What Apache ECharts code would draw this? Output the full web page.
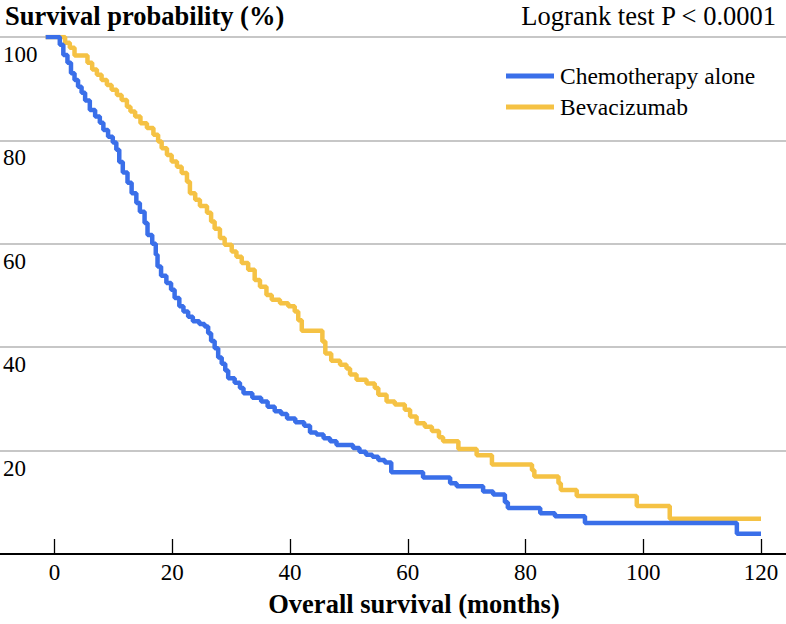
<!DOCTYPE html>
<html>
<head>
<meta charset="utf-8">
<style>html,body{margin:0;padding:0;background:#fff;}#chart{width:786px;height:624px;}</style>
<script src="https://cdn.jsdelivr.net/npm/echarts@6/dist/echarts.min.js"></script>
</head>
<body>
<div id="chart"></div>
<script>
const xTicks = [0, 20, 40, 60, 80, 100, 120];
const yTicks = [0, 20, 40, 60, 80, 100];
const seriesNames = ['Chemotherapy alone', 'Bevacizumab'];

const chemoTimes = [-1.5, 0.9, 1.5, 2.2, 2.8, 3.4, 4.0, 4.6, 5.2, 6.0, 6.9, 7.7, 8.3, 9.1, 9.9, 10.5, 11.0, 11.6, 12.4, 13.1, 13.9, 14.5, 15.3, 15.8, 16.6, 17.2, 17.5, 18.1, 19.0, 19.8, 20.4, 21.2, 21.9, 22.7, 23.5, 24.6, 25.5, 26.1, 26.6, 27.2, 27.8, 28.4, 29.0, 29.5, 30.6, 31.5, 32.1, 33.6, 35.1, 36.2, 37.4, 38.5, 39.5, 40.9, 42.4, 43.4, 44.5, 45.7, 46.8, 47.9, 50.7, 51.8, 52.9, 54.0, 55.0, 56.1, 57.2, 62.6, 67.2, 68.3, 72.8, 74.5, 76.5, 77.0, 82.5, 85.0, 90.1, 115.9, 120];
const chemoSurv = [100, 98.5, 96.5, 95.0, 93.0, 91.7, 90.4, 89.2, 87.7, 85.9, 84.6, 83.4, 82.0, 80.7, 79.6, 78.2, 75.8, 73.8, 71.8, 69.8, 67.9, 66.2, 64.0, 61.7, 60.0, 57.9, 55.6, 53.8, 52.4, 51.1, 49.5, 47.9, 46.9, 45.9, 45.0, 44.5, 44.0, 42.7, 41.2, 39.8, 38.0, 36.8, 35.5, 34.0, 33.1, 32.1, 31.1, 30.2, 29.5, 28.5, 27.6, 27.1, 26.2, 25.5, 24.8, 23.5, 23.1, 22.4, 21.8, 21.1, 20.5, 19.8, 19.2, 18.8, 18.2, 17.7, 15.8, 14.8, 13.7, 13.1, 12.1, 11.5, 10.0, 8.9, 7.9, 7.3, 6.0, 3.9, 3.9];

const bevTimes = [-1.5, 1.8, 2.6, 3.4, 5.6, 6.4, 7.2, 8.0, 8.9, 9.7, 10.6, 11.4, 12.3, 12.9, 13.7, 14.6, 15.7, 16.8, 17.6, 18.2, 19.1, 19.9, 20.8, 21.6, 22.5, 23.0, 23.9, 24.7, 25.9, 26.6, 27.2, 28.1, 28.9, 30.1, 30.9, 31.8, 32.9, 34.0, 34.9, 36.0, 36.9, 38.3, 39.7, 40.8, 41.4, 42.0, 45.5, 46.0, 47.0, 48.5, 49.6, 50.2, 51.3, 53.0, 54.4, 55.0, 56.4, 57.8, 59.5, 60.4, 61.5, 62.9, 64.1, 65.3, 66.0, 68.6, 71.7, 74.3, 81.1, 81.5, 85.6, 86.0, 88.7, 98.9, 104.5, 120];
const bevSurv = [100, 98.9, 97.9, 96.4, 95.0, 93.7, 92.7, 91.7, 90.7, 89.8, 88.8, 87.8, 86.5, 85.6, 84.6, 83.3, 82.4, 81.1, 79.8, 78.5, 77.2, 75.9, 74.9, 73.7, 72.0, 69.8, 68.5, 67.3, 66.0, 64.3, 62.9, 61.1, 59.8, 58.5, 57.5, 56.3, 55.0, 53.0, 51.7, 50.1, 49.2, 48.5, 47.9, 46.9, 45.2, 43.2, 41.1, 38.8, 37.4, 36.6, 35.9, 34.7, 33.7, 33.0, 32.1, 30.8, 29.5, 28.9, 27.9, 26.6, 25.3, 24.6, 23.8, 22.6, 21.8, 20.3, 19.1, 17.3, 16.2, 15.0, 13.7, 12.4, 11.2, 9.3, 6.8, 6.8];

const FONT = '"Liberation Serif", "Times New Roman", serif';
const BLUE = '#3a6fe9';
const YELLOW = '#f5c244';

function pairs(t, s) { return t.map((v, i) => [v, s[i]]); }

const chart = echarts.init(document.getElementById('chart'), null, { renderer: 'svg' });
chart.setOption({
  animation: false,
  backgroundColor: '#fff',
  textStyle: { fontFamily: FONT },
  title: [
    { text: 'Survival probability (%)', left: 0, top: -3, textStyle: { fontFamily: FONT, fontWeight: 'bold', fontSize: 26.5, color: '#000' } },
    { text: 'Logrank test P < 0.0001', right: 4, top: -3, textStyle: { fontFamily: FONT, fontWeight: 'normal', fontSize: 26.5, color: '#000' } },
    { text: 'Overall survival (months)', left: 409, textAlign: 'center', top: 585, textStyle: { fontFamily: FONT, fontWeight: 'bold', fontSize: 26.5, color: '#000' } }
  ],
  legend: {
    orient: 'vertical',
    left: 501, top: 59,
    icon: 'rect', itemWidth: 48, itemHeight: 5, itemGap: 7,
    data: seriesNames,
    textStyle: { fontFamily: FONT, fontSize: 23.5, color: '#000', padding: [0, 0, 0, 1] }
  },
  grid: { left: 0, right: 0, top: 37, bottom: 70, containLabel: false },
  xAxis: {
    type: 'value', min: -9.257, max: 124.246,
    axisLine: { show: true, onZero: false, lineStyle: { color: '#000', width: 2 } },
    axisTick: { show: true, inside: true, length: 15, customValues: xTicks, lineStyle: { color: '#000', width: 1.3 } },
    axisLabel: { show: true, customValues: xTicks, margin: 7, fontFamily: FONT, fontSize: 23, color: '#000' },
    splitLine: { show: false }
  },
  yAxis: {
    type: 'value', min: 0, max: 100, interval: 20,
    axisLine: { show: false }, axisTick: { show: false },
    axisLabel: {
      inside: true, margin: 3, fontFamily: FONT, fontSize: 23, color: '#000',
      verticalAlign: 'top', lineHeight: 35,
      formatter: v => (v === 0 ? '' : String(v))
    },
    splitLine: { show: true, lineStyle: { color: '#b4b4b4', width: 1.6 } }
  },
  series: [
    { name: seriesNames[0], type: 'line', step: 'end', showSymbol: false, z: 4,
      data: pairs(chemoTimes, chemoSurv), lineStyle: { color: BLUE, width: 4.5 }, itemStyle: { color: BLUE } },
    { name: seriesNames[1], type: 'line', step: 'end', showSymbol: false, z: 3,
      data: pairs(bevTimes, bevSurv), lineStyle: { color: YELLOW, width: 4.5 }, itemStyle: { color: YELLOW } }
  ]
});
</script>
</body>
</html>
